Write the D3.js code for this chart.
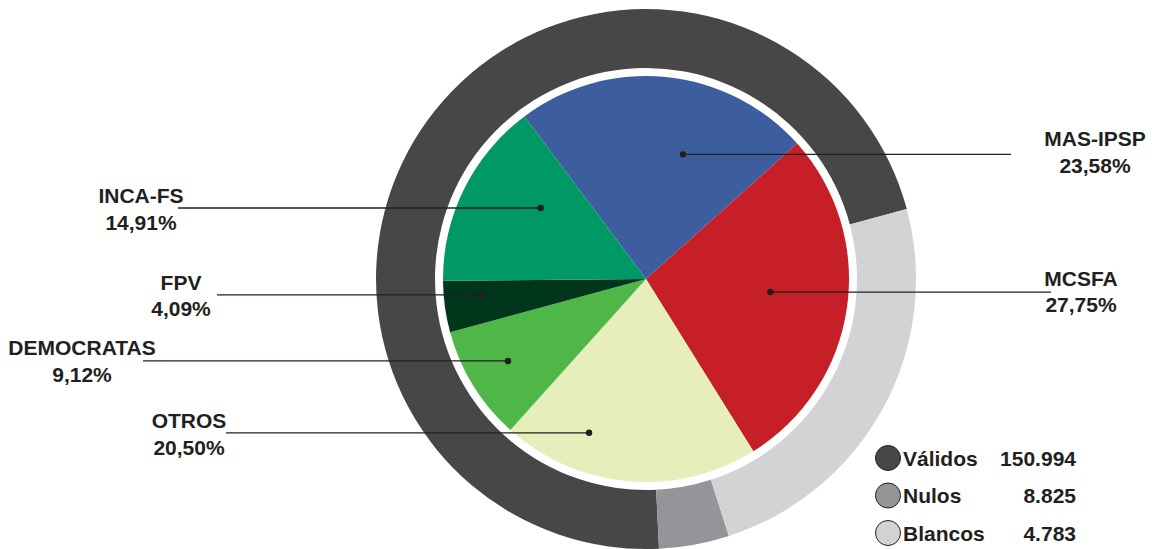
<!DOCTYPE html>
<html>
<head>
<meta charset="utf-8">
<script src="https://cdn.jsdelivr.net/npm/d3@7"></script>
<style>
  html, body { margin: 0; padding: 0; background: #fff; }
  svg { display: block; }
  text { font-family: "Liberation Sans", Arial, Helvetica, sans-serif; font-weight: bold; fill: #231f20; }
</style>
</head>
<body>
<svg id="chart" width="1152" height="549"></svg>
<script>
// ---- DATA ----
const parties = ["MAS-IPSP", "MCSFA", "OTROS", "DEMOCRATAS", "FPV", "INCA-FS"];
const partyShares = [23.58, 27.75, 20.50, 9.12, 4.09, 14.91];
const partyLabels = ["23,58%", "27,75%", "20,50%", "9,12%", "4,09%", "14,91%"];

const voteTypes = ["Válidos", "Nulos", "Blancos"];
const voteCounts = ["150.994", "8.825", "4.783"];
// ring shares as drawn in the original graphic (%)
const ringShares = [71.6, 4.2, 24.2];

// ---- STYLE / LAYOUT ----
const partyColors = ["#3d5e9e", "#c71f27", "#e6eebb", "#4eb748", "#00361b", "#009865"];
const ringColors = ["#474747", "#939598", "#d1d3d4"];
const cx = 646, cy = 279;
const pieR = 203, ringInner = 211, ringOuter = 270;
const deg = Math.PI / 180;

// callout anchors: angle (deg, clockwise from top), radius, line end x, text centre x
const callouts = [
  { a: 16.5, r: 130, lineX: 1011, textX: 1095, dy1: -8, dy2: 19 },
  { a: 96, r: 125, lineX: 1051, textX: 1081, dy1: -6, dy2: 20 },
  { a: 200.3, r: 164, lineX: 226, textX: 189, dy1: -5, dy2: 22 },
  { a: 239.3, r: 160.5, lineX: 143, textX: 82, dy1: -6, dy2: 21 },
  { a: 264.5, r: 166, lineX: 217, textX: 181, dy1: -5, dy2: 21 },
  { a: 304, r: 127, lineX: 178, textX: 141, dy1: -5, dy2: 22 }
];

const svg = d3.select("#chart");
const g = svg.append("g").attr("transform", `translate(${cx},${cy})`);

// outer ring
const ringPie = d3.pie().sort(null).value(d => d)
  .startAngle(435 * deg).endAngle(75 * deg);
const ringArc = d3.arc().innerRadius(ringInner).outerRadius(ringOuter);
g.selectAll("path.ring")
  .data(ringPie(ringShares))
  .join("path")
  .attr("class", "ring")
  .attr("d", ringArc)
  .attr("fill", (d, i) => ringColors[i]);

// inner pie
const pie = d3.pie().sort(null).value(d => d)
  .startAngle(-36.8 * deg).endAngle((360 - 36.8) * deg);
const arc = d3.arc().innerRadius(0).outerRadius(pieR);
const arcs = pie(partyShares);
g.selectAll("path.slice")
  .data(arcs)
  .join("path")
  .attr("class", "slice")
  .attr("d", arc)
  .attr("fill", (d, i) => partyColors[i]);

// callouts
const labels = svg.append("g");
arcs.forEach((d, i) => {
  const c = callouts[i];
  const [px, py] = d3.pointRadial(c.a * deg, c.r);
  const x = cx + px, y = cy + py;
  labels.append("line")
    .attr("x1", x).attr("y1", y).attr("x2", c.lineX).attr("y2", y)
    .attr("stroke", "#231f20").attr("stroke-width", 1.3);
  labels.append("circle")
    .attr("cx", x).attr("cy", y).attr("r", 3.2).attr("fill", "#231f20");
  labels.append("text")
    .attr("x", c.textX).attr("y", y + c.dy1)
    .attr("text-anchor", "middle").attr("font-size", 21)
    .text(parties[i]);
  labels.append("text")
    .attr("x", c.textX).attr("y", y + c.dy2)
    .attr("text-anchor", "middle").attr("font-size", 21)
    .text(partyLabels[i]);
});

// legend
const legendY = d3.scalePoint().domain(voteTypes).range([458, 533]);
const legend = svg.append("g");
voteTypes.forEach((t, i) => {
  const y = legendY(t);
  legend.append("circle")
    .attr("cx", 888).attr("cy", y).attr("r", 12.5)
    .attr("fill", ringColors[i]).attr("stroke", "#231f20").attr("stroke-width", 1);
  legend.append("text")
    .attr("x", 903).attr("y", y + 7.5).attr("font-size", 21)
    .text(t);
  legend.append("text")
    .attr("x", 1076).attr("y", y + 7.5).attr("font-size", 21)
    .attr("text-anchor", "end")
    .text(voteCounts[i]);
});
</script>
</body>
</html>
